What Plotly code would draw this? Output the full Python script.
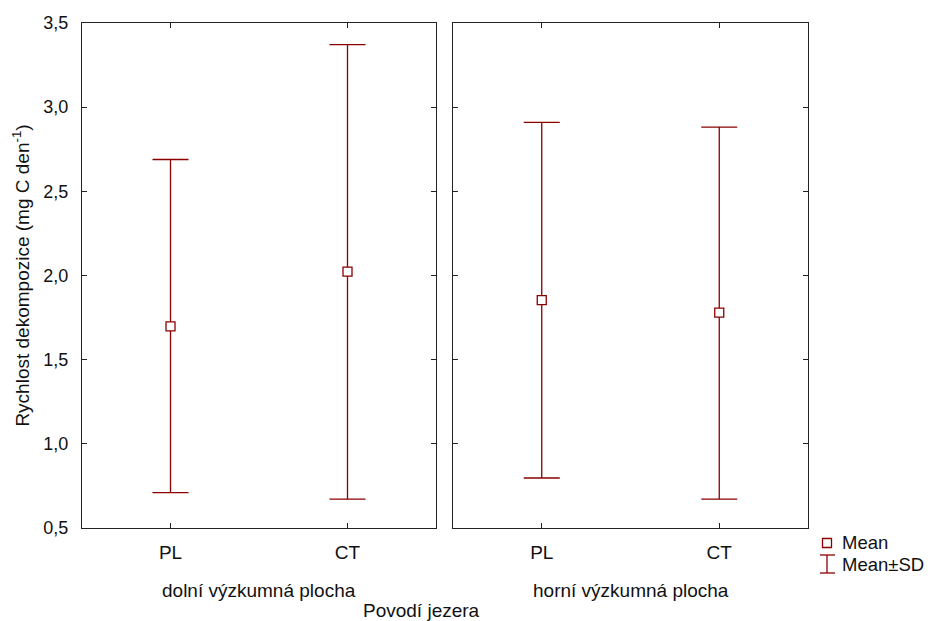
import plotly.graph_objects as go

categories = ["PL", "CT"]
group_labels = ["dolní výzkumná plocha", "horní výzkumná plocha"]
means_dolni = [1.698, 2.023]
upper_dolni = [2.689, 3.371]
lower_dolni = [0.710, 0.672]
means_horni = [1.854, 1.779]
upper_horni = [2.910, 2.882]
lower_horni = [0.797, 0.672]
y_ticks = [0.5, 1.0, 1.5, 2.0, 2.5, 3.0, 3.5]

RED = "#8b0000"
AX = "#222222"
TXT = "#111111"
FONT = "Liberation Sans, Arial, sans-serif"
FS = 19

fig = go.Figure()

def add_group(means, upper, lower, xa, ya):
    fig.add_trace(go.Scatter(
        x=categories, y=means, mode="markers",
        xaxis=xa, yaxis=ya,
        marker=dict(symbol="square", size=9, color="white",
                    line=dict(color=RED, width=1.3)),
        error_y=dict(type="data", symmetric=False,
                     array=[u - m for u, m in zip(upper, means)],
                     arrayminus=[m - l for m, l in zip(means, lower)],
                     color=RED, thickness=1.3, width=18),
        showlegend=False, cliponaxis=False,
    ))

add_group(means_dolni, upper_dolni, lower_dolni, "x", "y")
add_group(means_horni, upper_horni, lower_horni, "x2", "y2")

# body margin is removed in the page, so coordinates are window pixels
W, H = 928, 621
PL_, PR_, PT_, PB_ = 82, 808, 23, 528
pw = PR_ - PL_
ph = PB_ - PT_

def px(x):
    return (x - PL_) / pw

def py(y):
    return (PB_ - y) / ph

xcommon = dict(type="category", range=[-0.5, 1.5], showline=True, linecolor=AX,
               linewidth=1.2, mirror="ticks", ticks="inside", ticklen=5,
               tickcolor=AX, showgrid=False, zeroline=False, automargin=False,
               ticklabelstandoff=7,
               tickfont=dict(family=FONT, size=FS, color=TXT))
ycommon = dict(range=[0.5, 3.5], tickvals=y_ticks, tickformat=".1f",
               showline=True, linecolor=AX, linewidth=1.2, mirror="ticks",
               ticks="inside", ticklen=5, tickcolor=AX, showgrid=False,
               zeroline=False, automargin=False, ticklabelstandoff=9,
               tickfont=dict(family=FONT, size=18, color=TXT))

fig.update_layout(
    width=W, height=H,
    margin=dict(l=PL_, r=W - PR_, t=PT_, b=H - PB_),
    paper_bgcolor="white", plot_bgcolor="white",
    separators=", ",
    font=dict(family=FONT, size=FS, color=TXT),
    xaxis=dict(domain=[0, px(436)], anchor="y", **xcommon),
    xaxis2=dict(domain=[px(453), 1], anchor="y2", **xcommon),
    yaxis=dict(domain=[0, 1], anchor="x",
               title=dict(text="Rychlost dekompozice (mg C den<sup>-1</sup>)",
                          font=dict(family=FONT, size=FS, color=TXT),
                          standoff=8),
               **ycommon),
    yaxis2=dict(domain=[0, 1], anchor="x2", showticklabels=False, **ycommon),
)

fig.add_annotation(text=group_labels[0], xref="x domain", yref="paper",
                   x=0.5, y=py(590), xanchor="center", yanchor="middle",
                   showarrow=False, font=dict(family=FONT, size=FS, color=TXT))
fig.add_annotation(text=group_labels[1], xref="x2 domain", yref="paper",
                   x=0.5, y=py(590), xanchor="center", yanchor="middle",
                   showarrow=False, font=dict(family=FONT, size=FS, color=TXT))
fig.add_annotation(text="Povodí jezera", xref="paper", yref="paper",
                   x=px(421), y=py(610), xanchor="center", yanchor="middle",
                   showarrow=False, font=dict(family=FONT, size=FS, color=TXT))

# manual legend
fig.add_shape(type="rect", xref="paper", yref="paper",
              x0=px(822.5), x1=px(831.5), y0=py(547.5), y1=py(538.5),
              line=dict(color=RED, width=1.3), fillcolor="white")
for (x0, y0, x1, y1) in [(827, 555, 827, 573), (820, 555, 835, 555), (820, 573, 835, 573)]:
    fig.add_shape(type="line", xref="paper", yref="paper",
                  x0=px(x0), x1=px(x1), y0=py(y0), y1=py(y1),
                  line=dict(color=RED, width=1.3))
fig.add_annotation(text="Mean", xref="paper", yref="paper", x=px(840), y=py(542),
                   xanchor="left", yanchor="middle", showarrow=False,
                   font=dict(family=FONT, size=18.5, color=TXT))
fig.add_annotation(text="Mean±SD", xref="paper", yref="paper", x=px(840), y=py(564),
                   xanchor="left", yanchor="middle", showarrow=False,
                   font=dict(family=FONT, size=18.5, color=TXT))

fig.write_html("out.html", config={"displayModeBar": False},
               post_script="document.body.style.margin='0';document.body.style.overflow='hidden';")
